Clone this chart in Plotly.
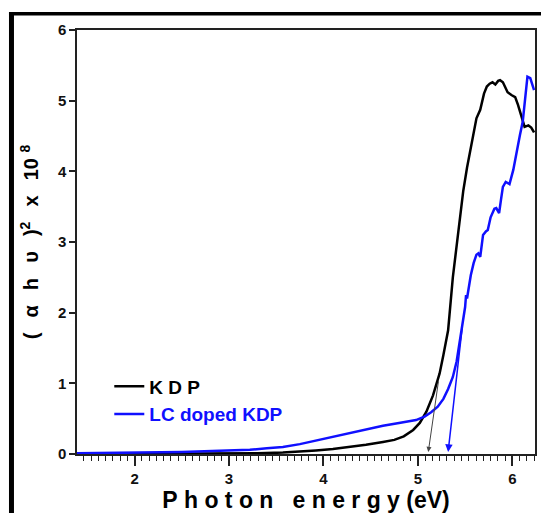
import plotly.graph_objects as go

# ---- data ----
kdp_x = [1.39, 2.0, 2.5, 3.0, 3.3, 3.57, 3.75, 3.92, 4.1, 4.28, 4.45, 4.63, 4.75, 4.85, 4.95,
         5.02, 5.09, 5.16, 5.23, 5.27, 5.32, 5.37, 5.40, 5.44, 5.48, 5.52, 5.56, 5.59, 5.62,
         5.66, 5.70, 5.73, 5.76, 5.79, 5.82, 5.85, 5.87, 5.90, 5.93, 5.95, 5.99, 6.03, 6.06,
         6.08, 6.10, 6.13, 6.17, 6.20, 6.23]
kdp_y = [0.0, 0.0, 0.0, 0.005, 0.01, 0.02, 0.03, 0.05, 0.07, 0.10, 0.13, 0.17, 0.20, 0.25, 0.34,
         0.44, 0.60, 0.83, 1.14, 1.40, 1.75, 2.50, 2.85, 3.26, 3.72, 4.05, 4.35, 4.58, 4.75,
         4.87, 5.10, 5.20, 5.24, 5.26, 5.23, 5.28, 5.29, 5.26, 5.18, 5.12, 5.08, 5.05, 4.94,
         4.85, 4.75, 4.63, 4.65, 4.62, 4.55]

lc_x = [1.39, 2.0, 2.05, 2.5, 3.0, 3.22, 3.4, 3.57, 3.75, 3.92, 4.1, 4.28, 4.45, 4.63, 4.8,
        4.98, 5.07, 5.14, 5.21, 5.27, 5.32, 5.37, 5.41, 5.44, 5.47, 5.50, 5.51, 5.52, 5.56,
        5.59, 5.62, 5.64, 5.66, 5.69, 5.72, 5.74, 5.77, 5.79, 5.81, 5.83, 5.86, 5.88, 5.90,
        5.93, 5.97, 6.01, 6.05, 6.08, 6.11, 6.14, 6.16, 6.19, 6.23]
lc_y = [0.01, 0.015, 0.02, 0.03, 0.05, 0.06, 0.08, 0.10, 0.14, 0.19, 0.25, 0.30, 0.35, 0.40, 0.44,
        0.48, 0.53, 0.59, 0.67, 0.78, 0.92, 1.09, 1.31, 1.57, 1.78, 2.08, 2.25, 2.20, 2.53,
        2.70, 2.82, 2.84, 2.79, 3.10, 3.15, 3.17, 3.35, 3.41, 3.47, 3.48, 3.41, 3.60, 3.78,
        3.85, 3.82, 4.02, 4.33, 4.51, 4.70, 5.06, 5.34, 5.32, 5.15]

# tangent (band-gap) arrows: [start_x, start_y, end_x, end_y]
kdp_tangent = [5.22, 1.05, 5.11, 0.03]
lc_tangent = [5.47, 1.80, 5.32, 0.03]

x_ticks = [2, 3, 4, 5, 6]
y_ticks = [0, 1, 2, 3, 4, 5, 6]

FONT = "Arial, Liberation Sans, sans-serif"
NB = "\u00a0"
TH = "\u2009"

fig = go.Figure()
fig.add_trace(go.Scatter(x=kdp_x, y=kdp_y, mode="lines", name="K D P",
                         line=dict(color="black", width=2.5), legendgroup="a"))
fig.add_trace(go.Scatter(x=lc_x, y=lc_y, mode="lines",
                         name="<span style='color:#1010ff'>LC doped KDP</span>",
                         line=dict(color="#1010ff", width=2.5), legendgroup="b"))

fig.add_annotation(x=kdp_tangent[2], y=kdp_tangent[3], ax=kdp_tangent[0], ay=kdp_tangent[1],
                   xref="x", yref="y", axref="x", ayref="y", showarrow=True, text="",
                   arrowhead=2, arrowsize=1, arrowwidth=1, arrowcolor="#444")
fig.add_annotation(x=lc_tangent[2], y=lc_tangent[3], ax=lc_tangent[0], ay=lc_tangent[1],
                   xref="x", yref="y", axref="x", ayref="y", showarrow=True, text="",
                   arrowhead=2, arrowsize=1, arrowwidth=1.5, arrowcolor="#1010ff")

# outer frame decoration
fig.add_shape(type="rect", xref="paper", yref="paper", x0=-0.1485, x1=-0.1376, y0=-0.2, y1=1.0425,
              fillcolor="black", line=dict(width=0), layer="above")
fig.add_shape(type="rect", xref="paper", yref="paper", x0=-0.1485, x1=1.1, y0=1.0342, y1=1.0425,
              fillcolor="black", line=dict(width=0), layer="above")

xtitle = NB.join(list("Photon")) + NB * 3 + NB.join(list("energy")) + NB + "(eV)"
YG = NB * 2 + TH
ytitle = ("(" + YG + "α" + YG + "h" + YG + "υ" + YG + ")<sup>2</sup>"
          + YG + "x" + YG + "10" + NB + "<sup>8</sup>" + NB * 2)

# body margin of the page is 8 px, so the figure is 8 px smaller than the window
fig.update_layout(
    width=541, height=505,
    margin=dict(l=69, r=14, t=22, b=59),
    paper_bgcolor="white", plot_bgcolor="white",
    font=dict(family=FONT, color="black"),
    showlegend=True,
    legend=dict(x=0.0705, y=0.2040, xanchor="left", yanchor="top",
                bgcolor="rgba(0,0,0,0)", font=dict(size=19, family=FONT, weight="bold"),
                traceorder="grouped", tracegroupgap=0),
    xaxis=dict(range=[1.39, 6.24], tickvals=x_ticks, ticks="outside", ticklen=10, tickwidth=1.5,
               tickcolor="#222", showline=True, linecolor="#222", linewidth=1.5, mirror=True,
               showgrid=False, zeroline=False, automargin=False,
               tickfont=dict(size=15, family=FONT, weight="bold", color="#111"),
               minor=dict(dtick=1/13, tick0=0, ticks="outside", ticklen=5, tickwidth=1, tickcolor="#222"),
               title=dict(text=xtitle,
                          font=dict(size=23, family=FONT, weight="bold"), standoff=0)),
    yaxis=dict(range=[0, 6], tickvals=y_ticks, ticks="outside", ticklen=6, tickwidth=1.5,
               tickcolor="#222", showline=True, linecolor="#222", linewidth=1.5, mirror=True,
               showgrid=False, zeroline=False, automargin=False,
               tickfont=dict(size=15, family=FONT, weight="bold", color="#111"),
               title=dict(text=ytitle,
                          font=dict(size=20, family=FONT, weight="bold"), standoff=14)),
)

fig.write_html("out.html")
